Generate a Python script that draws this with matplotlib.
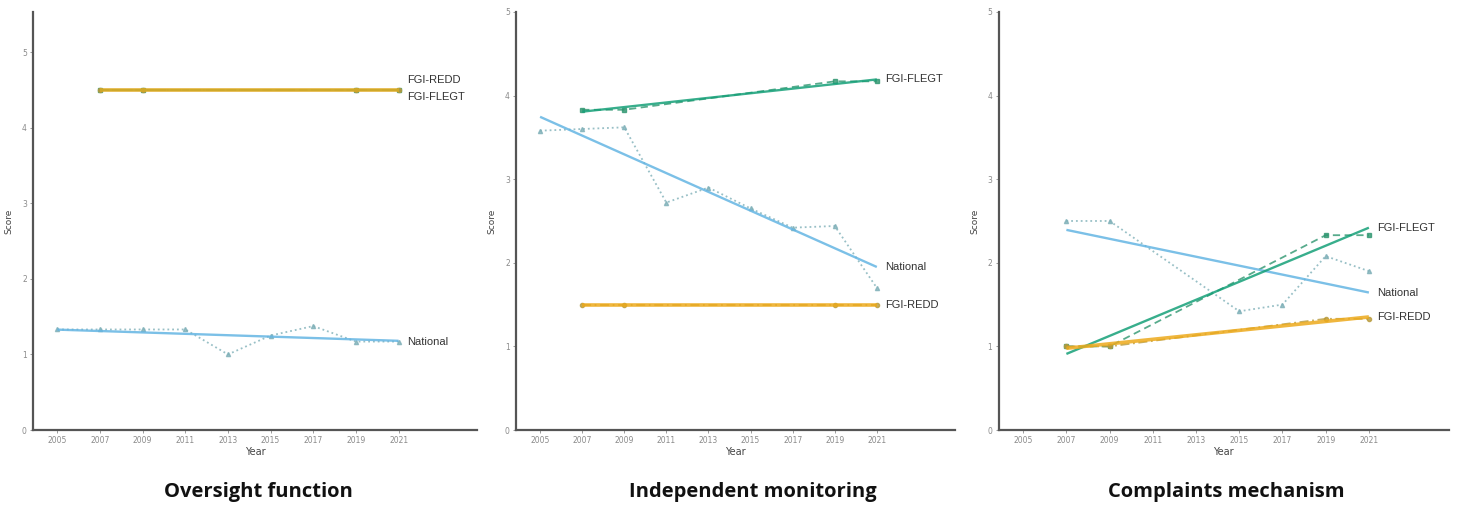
import matplotlib.pyplot as plt
import numpy as np

nan = np.nan

years = ['2005', '2007', '2009', '2011', '2013', '2015', '2017', '2019', '2021']
panel_titles = ['Oversight function', 'Independent monitoring', 'Complaints mechanism']
series_names = ['National', 'FGI-FLEGT', 'FGI-REDD']

# scores per series, one value per year (nan = not assessed)
oversight_national = [1.33, 1.33, 1.33, 1.33, 1.0, 1.25, 1.375, 1.17, 1.17]
oversight_flegt = [nan, 4.5, 4.5, nan, nan, nan, nan, 4.5, 4.5]
oversight_redd = [nan, 4.5, 4.5, nan, nan, nan, nan, 4.5, 4.5]

monitoring_national = [3.58, 3.6, 3.62, 2.72, 2.9, 2.65, 2.42, 2.44, 1.7]
monitoring_flegt = [nan, 3.83, 3.83, nan, nan, nan, nan, 4.17, 4.17]
monitoring_redd = [nan, 1.5, 1.5, nan, nan, nan, nan, 1.5, 1.5]

complaints_national = [nan, 2.5, 2.5, nan, nan, 1.42, 1.5, 2.08, 1.9]
complaints_flegt = [nan, 1.0, 1.0, nan, nan, nan, nan, 2.33, 2.33]
complaints_redd = [nan, 1.0, 1.0, nan, nan, nan, nan, 1.33, 1.33]

panels = [
    [oversight_national, oversight_flegt, oversight_redd],
    [monitoring_national, monitoring_flegt, monitoring_redd],
    [complaints_national, complaints_flegt, complaints_redd],
]

colors = {'National': '#64B5E3', 'FGI-FLEGT': '#15A078', 'FGI-REDD': '#EDAA1C'}
point_colors = {'National': '#7FB0B8', 'FGI-FLEGT': '#2E9670', 'FGI-REDD': '#B89A3A'}
styles = {'National': ':', 'FGI-FLEGT': (0, (4, 2.5)), 'FGI-REDD': (0, (5, 2, 1, 2))}
markers = {'National': '^', 'FGI-FLEGT': 's', 'FGI-REDD': 'o'}
# small vertical nudges so end labels do not sit on top of each other
label_nudge = [
    {'National': -0.02, 'FGI-FLEGT': -0.1, 'FGI-REDD': 0.13},
    {'National': 0.0, 'FGI-FLEGT': 0.0, 'FGI-REDD': 0.0},
    {'National': 0.0, 'FGI-FLEGT': 0.0, 'FGI-REDD': 0.0},
]
ytops = [5.53, 5.0, 5.0]

axes_boxes = [
    [0.0226, 0.1535, 0.304, 0.823],
    [0.353, 0.1535, 0.300, 0.823],
    [0.683, 0.1535, 0.308, 0.823],
]
title_x = [0.177, 0.515, 0.839]

fig = plt.figure(figsize=(14.62, 5.08), dpi=100)
x = np.arange(len(years))

for p in range(3):
    ax = fig.add_axes(axes_boxes[p])
    for name, values in zip(series_names, panels[p]):
        y = np.array(values, dtype=float)
        ok = ~np.isnan(y)
        xs, ys = x[ok], y[ok]
        pc = point_colors[name]
        ax.plot(xs, ys, linestyle=styles[name], color=pc, lw=1.3, alpha=0.8,
                marker=markers[name], ms=3, mec=pc, mfc=pc, zorder=2)
        slope, icept = np.polyfit(xs, ys, 1)
        fx = np.array([xs[0], xs[-1]])
        lw = 2.6 if name == 'FGI-REDD' else 1.7
        ax.plot(fx, icept + slope * fx, color=colors[name], lw=lw, alpha=0.85,
                solid_capstyle='butt', zorder=3)
        ax.text(8.2, icept + slope * fx[-1] + label_nudge[p][name], name,
                fontsize=8, family='Liberation Sans', color='#333333',
                va='center', ha='left')

    ax.set_xlim(-0.57, 9.85)
    ax.set_ylim(0, ytops[p])
    ax.set_xticks(x)
    ax.set_xticklabels(years)
    ax.set_yticks(range(6))
    ax.tick_params(labelsize=5.5, labelcolor='#8a8a8a', color='#8a8a8a',
                   length=2.5, width=0.6, pad=2)
    for side in ['top', 'right']:
        ax.spines[side].set_visible(False)
    for side in ['left', 'bottom']:
        ax.spines[side].set_color('#555555')
        ax.spines[side].set_linewidth(1.6)
    ax.set_xlabel('Year', fontsize=7, color='#444444', labelpad=1)
    ax.set_ylabel('Score', fontsize=6.5, color='#444444', labelpad=6)

    fig.text(title_x[p], 0.031, panel_titles[p], ha='center', va='center',
             fontsize=14.5, fontweight='bold', family='Open Sans', color='#111111')

fig.savefig('out.png', dpi=100, facecolor='white')
